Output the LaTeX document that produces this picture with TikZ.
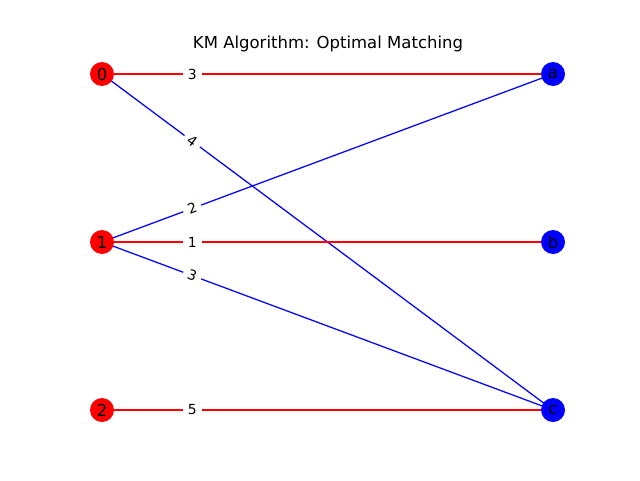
\documentclass[tikz,border=0pt]{standalone}
\usepackage{fontspec}
\setmainfont{DejaVu Sans}
\begin{document}
\begin{tikzpicture}[x=1pt,y=-1pt,
  lnode/.style={circle,fill=red,minimum size=24pt,inner sep=0pt,font=\fontsize{16.5}{18}\selectfont},
  rnode/.style={circle,fill=blue,minimum size=24pt,inner sep=0pt,font=\fontsize{16.5}{18}\selectfont},
  medge/.style={draw=red,line width=1.25pt},
  oedge/.style={draw=blue,line width=1.25pt},
  elab/.style={fill=white,inner xsep=5pt,inner ysep=2pt,sloped,pos=0.2,font=\fontsize{13.9}{15}\selectfont}]
\useasboundingbox (0,0) rectangle (640,480);
\node (title) at (328,44) {\fontsize{16.5}{18}\selectfont KM Algorithm: Optimal Matching};
\coordinate (c0) at (102,74);
\coordinate (c1) at (102,242);
\coordinate (c2) at (102,410);
\coordinate (ca) at (553,74);
\coordinate (cb) at (553,242);
\coordinate (cc) at (553,410);
\draw[medge] (c0) -- node[elab]{3} (ca);
\draw[oedge] (c0) -- node[elab]{4} (cc);
\draw[oedge] (c1) -- node[elab]{2} (ca);
\draw[medge] (c1) -- node[elab]{1} (cb);
\draw[oedge] (c1) -- node[elab]{3} (cc);
\draw[medge] (c2) -- node[elab]{5} (cc);
\node[lnode] (n0) at (c0) {0};
\node[lnode] (n1) at (c1) {1};
\node[lnode] (n2) at (c2) {2};
\node[rnode] (na) at (ca) {a};
\node[rnode] (nb) at (cb) {b};
\node[rnode] (nc) at (cc) {c};
\end{tikzpicture}
\end{document}
